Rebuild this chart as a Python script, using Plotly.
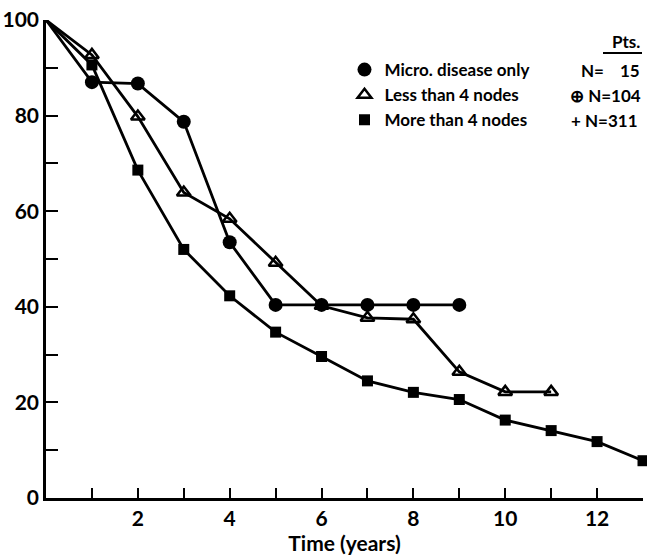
import plotly.graph_objects as go

# ---- data ----
years_micro = [0, 1, 2, 3, 4, 5, 6, 7, 8, 9]
surv_micro = [100, 87, 86.7, 78.7, 53.5, 40.4, 40.4, 40.4, 40.4, 40.4]

years_less4 = [0, 1, 2, 3, 4, 5, 6, 7, 8, 9, 10, 11]
surv_less4 = [100, 92.7, 79.8, 63.9, 58.4, 49.2, 40.2, 37.7, 37.4, 26.4, 22.2, 22.2]

years_more4 = [0, 1, 2, 3, 4, 5, 6, 7, 8, 9, 10, 11, 12, 13]
surv_more4 = [100, 90.6, 68.6, 52.0, 42.3, 34.7, 29.6, 24.5, 22.1, 20.6, 16.3, 14.1, 11.8, 7.8]

names = ["Micro. disease only", "Less than 4 nodes", "More than 4 nodes"]
n_labels = ["15", "\u2295 N=104", "+ N=311"]

x_tickvals = list(range(0, 14))
x_ticktext = ["" if (v % 2 == 1 or v == 0) else str(v) for v in x_tickvals]
y_tickvals = list(range(0, 101, 10))
y_ticktext = [str(v) if v % 20 == 0 else "" for v in y_tickvals]

FONT = "Lato"
BLACK = "#000000"
W = "bold"

fig = go.Figure()

series = [
    (years_micro, surv_micro, dict(symbol="circle", size=14, color=BLACK)),
    (years_less4, surv_less4, dict(symbol="triangle-up-open", size=12, color=BLACK, line=dict(width=2.5, color=BLACK))),
    (years_more4, surv_more4, dict(symbol="square", size=11, color=BLACK)),
]

for (xs, ys, mk), name in zip(series, names):
    fig.add_trace(go.Scatter(x=xs, y=ys, mode="lines", line=dict(color=BLACK, width=2.8),
                             showlegend=False, hoverinfo="skip", cliponaxis=False))
for (xs, ys, mk), name in zip(series, names):
    fig.add_trace(go.Scatter(x=xs[1:], y=ys[1:], mode="markers", marker=mk, name=name,
                             cliponaxis=False))

fig.update_layout(
    width=647, height=558,
    margin=dict(l=46, r=4, t=20, b=60),
    paper_bgcolor="white", plot_bgcolor="white",
    font=dict(family=FONT, color=BLACK, size=20, weight=W),
    legend=dict(x=0.500, y=0.933, xanchor="left", yanchor="top",
                font=dict(size=17, family=FONT, color=BLACK, weight=W),
                bgcolor="rgba(0,0,0,0)", tracegroupgap=0, itemwidth=30),
    xaxis=dict(range=[0, 13], tickvals=x_tickvals, ticktext=x_ticktext,
               ticks="inside", ticklen=10, tickwidth=2, tickcolor=BLACK,
               showline=True, linewidth=2.5, linecolor=BLACK, showgrid=False, zeroline=False,
               tickfont=dict(size=21, weight=W),
               title=dict(text="Time (years)", font=dict(size=21, weight=W), standoff=2)),
    yaxis=dict(range=[0, 100], tickvals=y_tickvals, ticktext=y_ticktext,
               ticks="inside", ticklen=12, tickwidth=2, tickcolor=BLACK,
               showline=True, linewidth=2.5, linecolor=BLACK, showgrid=False, zeroline=False,
               tickfont=dict(size=21, weight=W)),
)

def py(px):
    return (498 - px) / 478.0

def pxx(px):
    return (px - 46) / 597.0

AF = dict(size=17, weight=W)
fig.add_annotation(x=pxx(642), y=py(42), xref="paper", yref="paper", text="Pts.",
                   showarrow=False, xanchor="right", yanchor="middle", font=AF)
fig.add_shape(type="line", xref="paper", yref="paper", x0=pxx(603), x1=pxx(642),
              y0=py(53), y1=py(53), line=dict(color=BLACK, width=2))
fig.add_annotation(x=pxx(579), y=py(70), xref="paper", yref="paper", text="N=",
                   showarrow=False, xanchor="left", yanchor="middle", font=AF)
fig.add_annotation(x=pxx(642), y=py(70), xref="paper", yref="paper", text=n_labels[0],
                   showarrow=False, xanchor="right", yanchor="middle", font=AF)
fig.add_annotation(x=pxx(643), y=py(96), xref="paper", yref="paper", text=n_labels[1],
                   showarrow=False, xanchor="right", yanchor="middle", font=AF)
fig.add_annotation(x=pxx(640), y=py(121), xref="paper", yref="paper", text=n_labels[2],
                   showarrow=False, xanchor="right", yanchor="middle", font=AF)

fig.write_html("out.html", config={"displayModeBar": False},
               post_script="document.body.style.margin='0';document.body.style.overflow='hidden';")
